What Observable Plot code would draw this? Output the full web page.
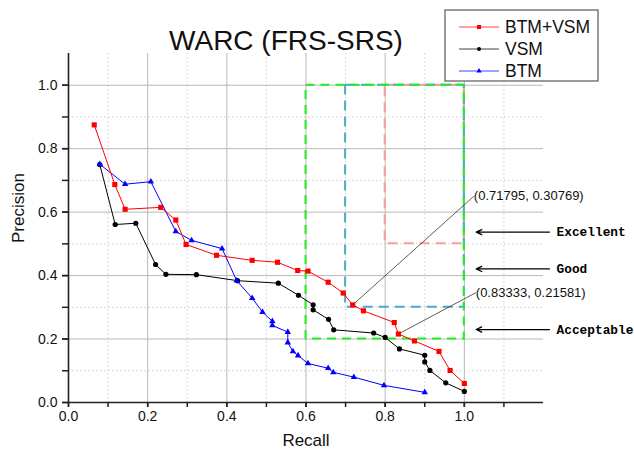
<!DOCTYPE html>
<html>
<head>
<meta charset="utf-8">
<script src="https://cdn.jsdelivr.net/npm/d3@7"></script>
<script src="https://cdn.jsdelivr.net/npm/@observablehq/plot@0.6"></script>
<style>
  html, body { margin: 0; padding: 0; background: #fff; }
  #chart { width: 634px; height: 453px; }
</style>
</head>
<body>
<div id="chart"></div>
<script>
// ---------- data ----------
const title = "WARC (FRS-SRS)";
const seriesNames = ["BTM+VSM", "VSM", "BTM"];
const seriesColors = ["#ff0000", "#000000", "#0000ff"];
const seriesSymbols = ["square", "circle", "triangle"];

const recallBtmVsm = [0.065, 0.117, 0.143, 0.233, 0.271, 0.297, 0.374, 0.464, 0.528, 0.579, 0.605, 0.656, 0.694, 0.71795, 0.745, 0.823, 0.83333, 0.874, 0.936, 0.964, 1.0];
const precisionBtmVsm = [0.875, 0.687, 0.609, 0.615, 0.575, 0.498, 0.464, 0.448, 0.442, 0.416, 0.414, 0.379, 0.345, 0.30769, 0.289, 0.252, 0.21581, 0.194, 0.161, 0.101, 0.060];

const recallVsm = [0.079, 0.118, 0.170, 0.220, 0.246, 0.323, 0.427, 0.530, 0.581, 0.618, 0.618, 0.657, 0.670, 0.771, 0.800, 0.836, 0.900, 0.900, 0.913, 0.953, 1.0];
const precisionVsm = [0.750, 0.561, 0.565, 0.435, 0.404, 0.403, 0.384, 0.376, 0.338, 0.308, 0.292, 0.262, 0.229, 0.219, 0.205, 0.169, 0.149, 0.128, 0.101, 0.062, 0.035];

const recallBtm = [0.079, 0.143, 0.208, 0.271, 0.311, 0.388, 0.425, 0.464, 0.490, 0.515, 0.515, 0.554, 0.554, 0.567, 0.580, 0.605, 0.656, 0.669, 0.721, 0.797, 0.900];
const precisionBtm = [0.751, 0.688, 0.696, 0.539, 0.511, 0.485, 0.384, 0.329, 0.285, 0.256, 0.243, 0.222, 0.189, 0.161, 0.148, 0.123, 0.108, 0.095, 0.080, 0.054, 0.032];

// quality zones (dashed rectangles)
const zoneNames = ["Excellent", "Good", "Acceptable"];
const zoneRecallMin = [0.8, 0.7, 0.6];
const zonePrecisionMin = [0.5, 0.3, 0.2];
const zoneRecallMax = [1.0, 1.0, 1.0];
const zonePrecisionMax = [1.0, 1.0, 1.0];
const zoneColors = ["#ff9c9c", "#4aaccb", "#22ee22"];
const zoneArrowY = [0.537, 0.421, 0.230];

// annotations
const annLabels = ["(0.71795, 0.30769)", "(0.83333, 0.21581)"];
const annX = [0.71795, 0.83333];
const annY = [0.30769, 0.21581];
const annLabelX = [1.024, 1.029];
const annLabelY = [0.650, 0.346];

// axes
const xTickValues = [0, 0.1, 0.2, 0.3, 0.4, 0.5, 0.6, 0.7, 0.8, 0.9, 1.0, 1.1];
const xLabelValues = [0, 0.2, 0.4, 0.6, 0.8, 1.0];
const xTickLabels = ["0.0", "0.2", "0.4", "0.6", "0.8", "1.0"];
const yTickValues = [0, 0.1, 0.2, 0.3, 0.4, 0.5, 0.6, 0.7, 0.8, 0.9, 1.0];
const yLabelValues = [0, 0.2, 0.4, 0.6, 0.8, 1.0];
const yTickLabels = ["0.0", "0.2", "0.4", "0.6", "0.8", "1.0"];
const xMajorGrid = [0.2, 0.4, 0.6, 0.8, 1.0];
const xMinorGrid = [0.1, 0.3, 0.5, 0.7, 0.9, 1.1];
const yMajorGrid = [0.2, 0.4, 0.6, 0.8, 1.0];
const yMinorGrid = [0.1, 0.3, 0.5, 0.7, 0.9];

// ---------- build tables ----------
const seriesX = [recallBtmVsm, recallVsm, recallBtm];
const seriesY = [precisionBtmVsm, precisionVsm, precisionBtm];
const series = seriesNames.map((name, i) =>
  seriesX[i].map((x, j) => ({name, x, y: seriesY[i][j], color: seriesColors[i], symbol: seriesSymbols[i]}))
);
const zones = zoneNames.map((name, i) => ({
  name, x1: zoneRecallMin[i], x2: zoneRecallMax[i], y1: zonePrecisionMin[i], y2: zonePrecisionMax[i],
  color: zoneColors[i], ay: zoneArrowY[i]
}));
const anns = annLabels.map((label, i) => ({label, x1: annX[i], y1: annY[i], x2: annLabelX[i], y2: annLabelY[i]}));

const dotR = {square: 2.9, circle: 2.6, triangle: 2.4};
const drawOrder = [1, 2, 0]; // VSM, BTM, BTM+VSM on top
const sans = "'Liberation Sans', Arial, sans-serif";

const marks = [
  // grid
  Plot.ruleX(xMinorGrid, {stroke: "#cfcfcf", strokeDasharray: "1.5,2.5", strokeWidth: 1}),
  Plot.ruleY(yMinorGrid, {stroke: "#cfcfcf", strokeDasharray: "1.5,2.5", strokeWidth: 1}),
  Plot.ruleX(xMajorGrid, {stroke: "#b8b8b8", strokeWidth: 1}),
  Plot.ruleY(yMajorGrid, {stroke: "#b8b8b8", strokeWidth: 1}),
  // zones
  ...zones.map((z, i) => Plot.rect([z], {
    x1: "x1", x2: "x2", y1: "y1", y2: "y2", fill: "none", stroke: z.color,
    strokeWidth: 2, strokeDasharray: i === 2 ? "9,6" : "10,6"
  })),
  // annotation leader lines
  Plot.link(anns, {x1: "x1", y1: "y1", x2: "x2", y2: "y2", stroke: "#333", strokeWidth: 0.8}),
  Plot.text(anns, {x: "x2", y: "y2", text: "label", textAnchor: "start", fontSize: 13, fill: "#111"}),
];
for (const i of drawOrder) {
  const s = series[i];
  marks.push(Plot.line(s, {x: "x", y: "y", stroke: seriesColors[i], strokeWidth: 1}));
  marks.push(Plot.dot(s, {x: "x", y: "y", symbol: seriesSymbols[i], fill: seriesColors[i], stroke: "none", r: dotR[seriesSymbols[i]]}));
}
marks.push(
  // zone arrows + labels
  Plot.arrow(zones, {x1: () => 1.215, x2: () => 1.030, y1: "ay", y2: "ay", stroke: "#000", strokeWidth: 1.3, headLength: 7, headAngle: 50}),
  Plot.text(zones, {x: () => 1.233, y: "ay", text: "name", textAnchor: "start", fontFamily: "'Liberation Mono', 'DejaVu Sans Mono', monospace", fontWeight: "bold", fontSize: 12.8, fill: "#000"}),
  // axes
  Plot.ruleY([0], {stroke: "#222", strokeWidth: 1.6}),
  Plot.ruleX([0], {stroke: "#222", strokeWidth: 1.6}),
  Plot.axisX(xTickValues, {tickSize: 5, tickFormat: () => "", stroke: "#222", strokeWidth: 1.5}),
  Plot.axisX(xLabelValues, {tickSize: 5, tickPadding: 4, tickFormat: d => xTickLabels[Math.round(d / 0.2)], fontSize: 14, fill: "#111", stroke: "#222", strokeWidth: 1.5, label: null}),
  Plot.axisY(yTickValues, {tickSize: 6, tickFormat: () => "", stroke: "#222", strokeWidth: 1.5}),
  Plot.axisY(yLabelValues, {tickSize: 6, tickPadding: 5, tickFormat: d => yTickLabels[Math.round(d / 0.2)], fontSize: 14, fill: "#111", stroke: "#222", strokeWidth: 1.5, label: null}),
  // axis titles and chart title
  Plot.text(["Recall"], {frameAnchor: "bottom", dy: 43, fontSize: 17, fill: "#111"}),
  Plot.text(["Precision"], {frameAnchor: "left", rotate: -90, dx: -50, dy: 15, fontSize: 17, fill: "#111"}),
  Plot.text([title], {frameAnchor: "top", dx: -20, dy: -23, fontSize: 28, fill: "#111"})
);

const chart = Plot.plot({
  width: 634,
  height: 453,
  marginLeft: 68,
  marginRight: 91,
  marginTop: 53,
  marginBottom: 51,
  x: {domain: [0, 1.2], axis: null},
  y: {domain: [0, 1.1], axis: null},
  style: {background: "#fff", overflow: "visible", fontFamily: sans},
  marks
});

// ---------- legend ----------
const svg = d3.select(chart);
const lg = svg.append("g").attr("transform", "translate(445,10)");
lg.append("rect").attr("width", 153).attr("height", 71).attr("fill", "#fff").attr("stroke", "#666").attr("stroke-width", 1.3);
const rowY = [17, 39, 61];
seriesNames.forEach((name, i) => {
  const g = lg.append("g").attr("transform", `translate(0,${rowY[i]})`);
  g.append("line").attr("x1", 14).attr("x2", 54).attr("stroke", seriesColors[i]).attr("stroke-width", 1).attr("stroke-opacity", 0.75);
  const sym = {square: d3.symbolSquare, circle: d3.symbolCircle, triangle: d3.symbolTriangle}[seriesSymbols[i]];
  const r = {square: 2.3, circle: 2.0, triangle: 2.0}[seriesSymbols[i]];
  g.append("path").attr("transform", "translate(34,0)").attr("d", d3.symbol(sym, Math.PI * r * r)()).attr("fill", seriesColors[i]);
  g.append("text").attr("x", 60).attr("dy", "0.35em").attr("text-anchor", "start")
    .attr("font-family", sans).attr("font-size", 17.5).attr("fill", "#111").text(name);
});

document.getElementById("chart").appendChild(chart);
</script>
</body>
</html>
